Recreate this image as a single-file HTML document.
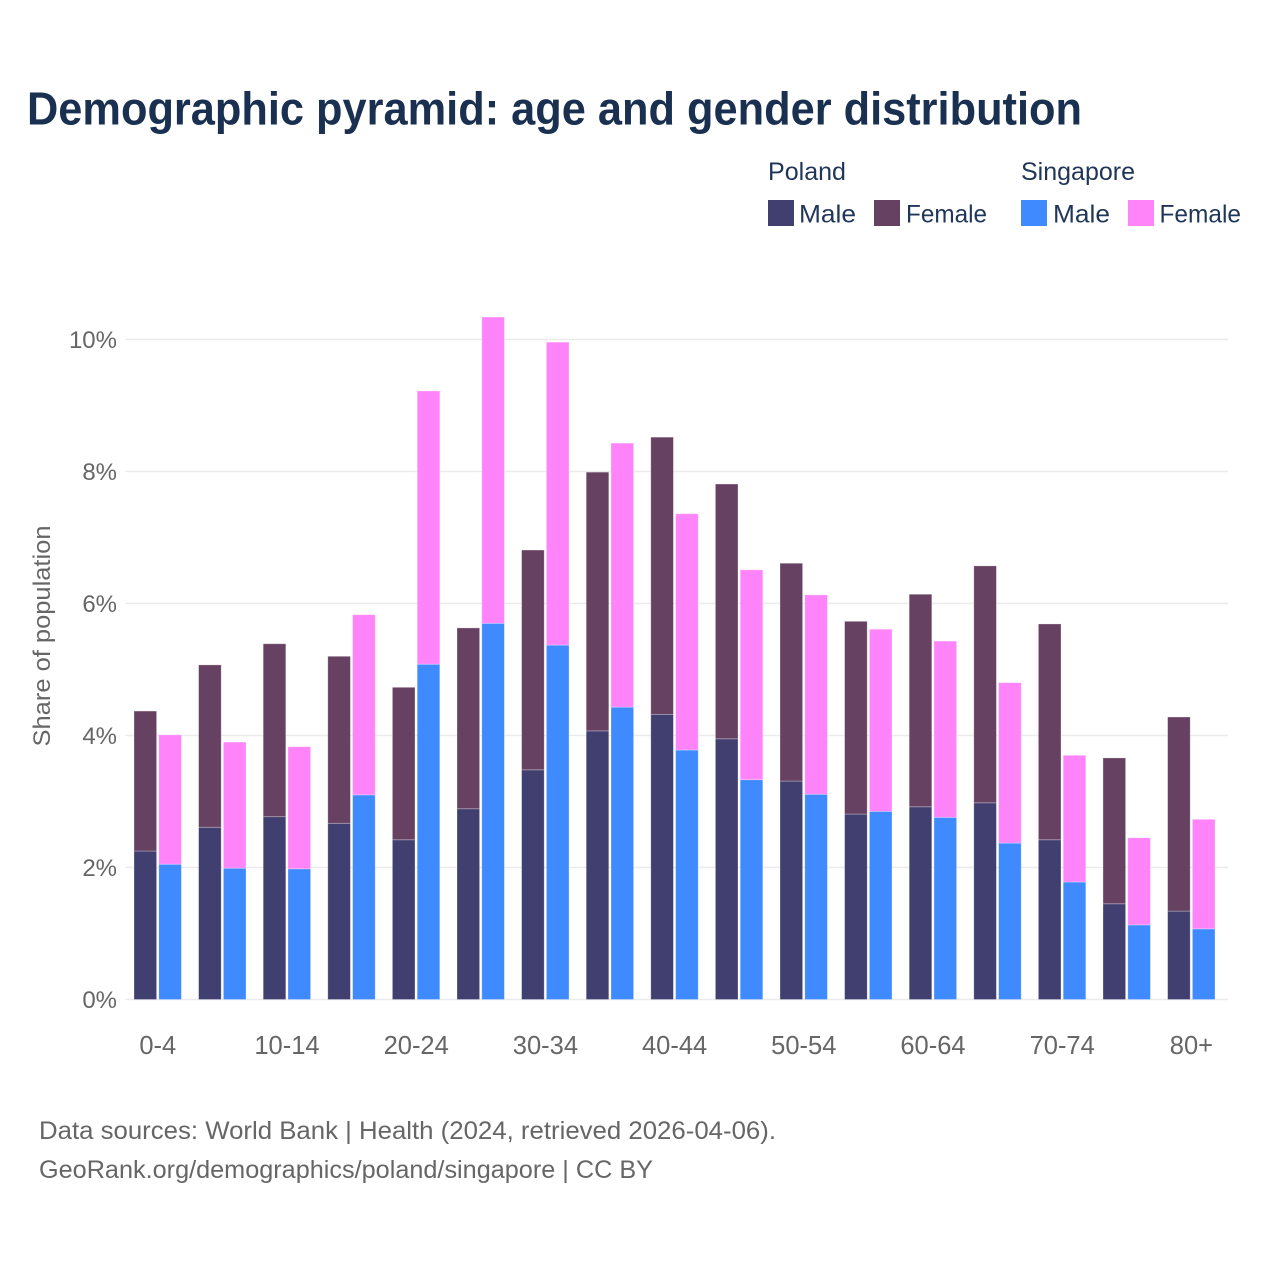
<!DOCTYPE html>
<html lang="en">
<head>
<meta charset="utf-8">
<title>Demographic pyramid: age and gender distribution</title>
<style>
html,body{margin:0;padding:0;background:#fff;width:1280px;height:1280px;overflow:hidden}
svg{display:block}
text{font-family:"Liberation Sans",sans-serif}
</style>
</head>
<body>
<svg id="chart" xmlns="http://www.w3.org/2000/svg" width="1280" height="1280" viewBox="0 0 1280 1280">
  <rect width="1280" height="1280" fill="#fff"/>
  <text x="27" y="124.5" font-size="46" font-weight="700" fill="#1a3050" textLength="1055" lengthAdjust="spacingAndGlyphs">Demographic pyramid: age and gender distribution</text>

  <g font-size="25" fill="#1f3658">
    <text x="768" y="180" textLength="78" lengthAdjust="spacingAndGlyphs">Poland</text>
    <text x="1021" y="180" textLength="114" lengthAdjust="spacingAndGlyphs">Singapore</text>
    <rect x="768" y="200" width="26" height="26" fill="#413f6f"/>
    <text x="799" y="222.5" textLength="57" lengthAdjust="spacingAndGlyphs">Male</text>
    <rect x="874" y="200" width="26" height="26" fill="#674162"/>
    <text x="906" y="222.5" textLength="81" lengthAdjust="spacingAndGlyphs">Female</text>
    <rect x="1021" y="200" width="26" height="26" fill="#3f8aff"/>
    <text x="1053" y="222.5" textLength="57" lengthAdjust="spacingAndGlyphs">Male</text>
    <rect x="1128" y="200" width="26" height="26" fill="#ff84fa"/>
    <text x="1159.5" y="222.5" textLength="81.5" lengthAdjust="spacingAndGlyphs">Female</text>
  </g>

  <g id="grid"></g>
  <g id="yticks"></g>
  <g id="bars"></g>
  <g id="xticks"></g>

  <text transform="translate(50,636) rotate(-90)" text-anchor="middle" font-size="24" fill="#666" textLength="221" lengthAdjust="spacingAndGlyphs">Share of population</text>

  <text x="39" y="1139" font-size="25" fill="#666" textLength="737" lengthAdjust="spacingAndGlyphs">Data sources: World Bank | Health (2024, retrieved 2026-04-06).</text>
  <text x="39" y="1178" font-size="25" fill="#666" textLength="614" lengthAdjust="spacingAndGlyphs">GeoRank.org/demographics/poland/singapore | CC BY</text>
</svg>
<script>
var categories = ["0-4","5-9","10-14","15-19","20-24","25-29","30-34","35-39","40-44","45-49","50-54","55-59","60-64","65-69","70-74","75-79","80+"];
var polandMale = [2.25,2.61,2.77,2.67,2.42,2.89,3.48,4.07,4.32,3.95,3.31,2.81,2.92,2.98,2.42,1.45,1.34];
var polandFemale = [2.12,2.46,2.62,2.53,2.31,2.74,3.33,3.92,4.20,3.86,3.30,2.92,3.22,3.59,3.27,2.21,2.94];
var singaporeMale = [2.05,1.99,1.98,3.10,5.08,5.70,5.37,4.43,3.78,3.33,3.11,2.85,2.76,2.37,1.78,1.13,1.07];
var singaporeFemale = [1.96,1.91,1.85,2.73,4.14,4.64,4.59,4.00,3.58,3.18,3.02,2.76,2.67,2.43,1.92,1.32,1.66];
var yTicks = [0,2,4,6,8,10];

var NS = "http://www.w3.org/2000/svg";
function yScale(v){ return 999.5 - v * 66; }
function xScale(i){ return 134 + i * 64.6; }
var BAR_W = 22.6, BAR_GAP = 24.8;

var grid = document.getElementById("grid");
var yt = document.getElementById("yticks");
yTicks.forEach(function(t){
  var l = document.createElementNS(NS, "line");
  
  
  l.setAttribute("x1", 125.5);
  l.setAttribute("x2", 1228);
  l.setAttribute("y1", yScale(t));
  l.setAttribute("y2", yScale(t));
  l.setAttribute("stroke", "#ebebeb");
  l.setAttribute("stroke-width", "1.5");
  grid.appendChild(l);
  var s = document.createElementNS(NS, "text");
  
  
  s.setAttribute("x", 117);
  s.setAttribute("y", yScale(t) + 8.5);
  s.setAttribute("text-anchor", "end");
  s.setAttribute("font-size", "24");
  s.setAttribute("fill", "#666");
  s.textContent = t + "%";
  yt.appendChild(s);
});

function addBar(parent, x, base, val, color, name){
  var r = document.createElementNS(NS, "rect");
  
  
  var top = yScale(base + val), bottom = yScale(base);
  r.setAttribute("x", x);
  r.setAttribute("y", top);
  r.setAttribute("width", BAR_W);
  r.setAttribute("height", bottom - top);
  r.setAttribute("fill", color);
  r.setAttribute("stroke", "#fff");
  r.setAttribute("stroke-opacity", "0.35");
  r.setAttribute("stroke-width", "0.8");
  parent.appendChild(r);
}

var bars = document.getElementById("bars");
var xt = document.getElementById("xticks");
categories.forEach(function(c, i){
  var x = xScale(i);
  addBar(bars, x, 0, polandMale[i], "#413f6f", "bar-poland-male");
  addBar(bars, x, polandMale[i], polandFemale[i], "#674162", "bar-poland-female");
  addBar(bars, x + BAR_GAP, 0, singaporeMale[i], "#3f8aff", "bar-singapore-male");
  addBar(bars, x + BAR_GAP, singaporeMale[i], singaporeFemale[i], "#ff84fa", "bar-singapore-female");
  if (i % 2 === 0) {
    var s = document.createElementNS(NS, "text");
    
    
    s.setAttribute("x", x + 23.8);
    s.setAttribute("y", 1054);
    s.setAttribute("text-anchor", "middle");
    s.setAttribute("font-size", "25.5");
    s.setAttribute("fill", "#666");
    s.textContent = c;
    xt.appendChild(s);
  }
});
</script>
</body>
</html>
